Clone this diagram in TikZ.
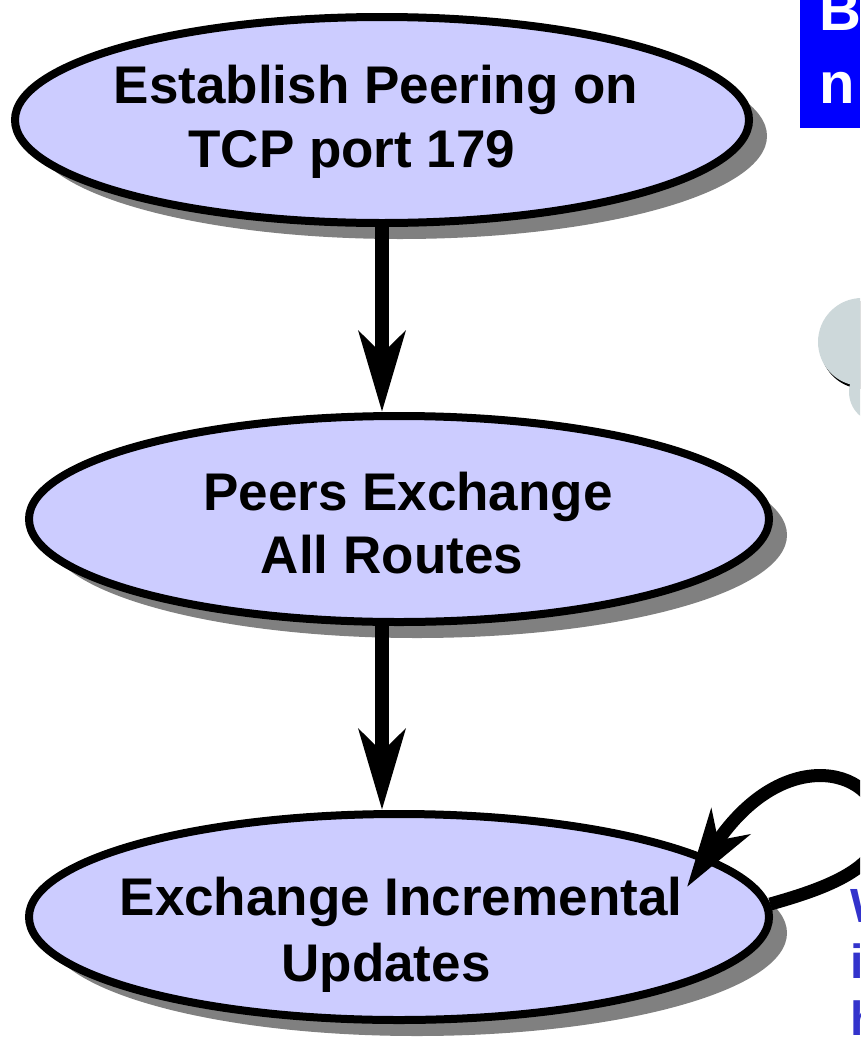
\documentclass[tikz,border=0pt]{standalone}
\usepackage{fontspec}
\setmainfont{Liberation Sans}
\usetikzlibrary{arrows.meta,shapes.geometric,shadows}
\definecolor{efill}{RGB}{204,204,255}
\definecolor{shadowgray}{RGB}{128,128,128}
\definecolor{cloudgray}{RGB}{205,216,218}
\definecolor{titleblue}{RGB}{0,0,255}
\definecolor{noteblue}{RGB}{51,51,204}
\tikzset{
  stepell/.style={ellipse, draw=black, line width=8pt, fill=efill, inner sep=0pt,
    minimum height=206pt,
    drop shadow={shadow xshift=18pt, shadow yshift=-16pt, fill=shadowgray, opacity=1}},
  lbl/.style={anchor=base, inner sep=0pt, font=\fontsize{53}{63}\selectfont\bfseries},
  arr/.style={line width=14pt, -{Stealth[length=80pt, width=46pt, inset=22pt]}},
  looparr/.style={line width=13pt, -{Stealth[length=78pt, width=46pt, inset=22pt]}},
  titletxt/.style={anchor=base west, inner sep=0pt, text=white, font=\fontsize{58}{68}\selectfont\bfseries},
  notetxt/.style={anchor=base west, inner sep=0pt, text=noteblue, font=\fontsize{48}{56}\selectfont\bfseries}
}
\begin{document}
\begin{tikzpicture}[x=1pt,y=-1pt]
\useasboundingbox (0,0) rectangle (860,1042);
\clip (0,0) rectangle (860,1042);

% title box (cut off at right)
\fill[titleblue] (800,0) rectangle (860,128);
\node[titletxt] (tb1) at (819,30) {B};
\node[titletxt] (tb2) at (819,103) {n};

% cloud (cut off at right)
\fill[black] (864,345) circle[radius=44pt];
\fill[cloudgray] (862,342) circle[radius=44pt];
\fill[cloudgray] (880,392) circle[radius=31pt];

% ellipses
\node[stepell, minimum width=734pt] (e1) at (382,120) {};
\node[stepell, minimum width=740pt] (e2) at (399,519) {};
\node[stepell, minimum width=740pt] (e3) at (399,917) {};

\node[lbl] (t1a) at (376,103) {Establish Peering on};
\node[lbl] (t1b) at (352,167) {TCP port 179};
\node[lbl] (t2a) at (408,510) {Peers Exchange};
\node[lbl] (t2b) at (392,573) {All Routes};
\node[lbl] (t3a) at (401,915) {Exchange Incremental};
\node[lbl] (t3b) at (386,981) {Updates};

% connectors
\draw[arr] (e1.south) -- (e1.south |- e2.north);
\draw[arr] (e2.south -| e1.south) -- (e1.south |- e3.north);
\coordinate (looptip) at (687,887);
\draw[looparr] (e3.2) .. controls (820,890) and (880,870) .. (880,830)
  .. controls (882,770) and (785,740) .. (looptip);

% note text (cut off at right)
\node[notetxt] (n1) at (850,922) {W};
\node[notetxt] (n2) at (850,978) {i};
\node[notetxt] (n3) at (850,1035) {h};
\end{tikzpicture}
\end{document}
